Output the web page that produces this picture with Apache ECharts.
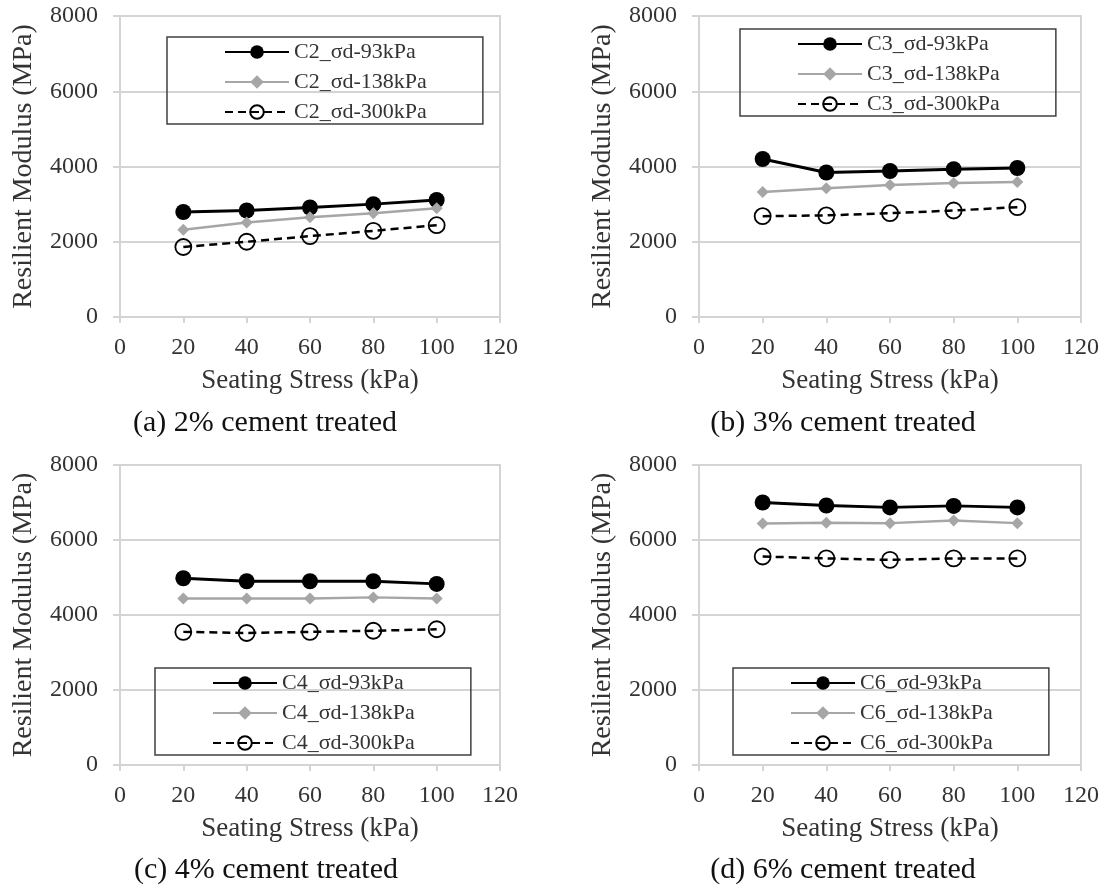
<!DOCTYPE html>
<html>
<head>
<meta charset="utf-8">
<script src="https://cdn.jsdelivr.net/npm/echarts@6/dist/echarts.min.js"></script>
<style>
html,body{margin:0;padding:0;background:#fff;}
#chart{width:1106px;height:890px;}
</style>
</head>
<body>
<div id="chart"></div>
<script>
// ---- data ----
const stress = [20, 40, 60, 80, 100];

const c2_93  = [2790, 2830, 2910, 3000, 3110];
const c2_138 = [2320, 2510, 2650, 2760, 2890];
const c2_300 = [1860, 2000, 2150, 2290, 2440];

const c3_93  = [4200, 3840, 3880, 3930, 3960];
const c3_138 = [3320, 3420, 3510, 3560, 3590];
const c3_300 = [2680, 2700, 2760, 2830, 2920];

const c4_93  = [4980, 4900, 4900, 4900, 4830];
const c4_138 = [4440, 4440, 4440, 4470, 4440];
const c4_300 = [3550, 3520, 3550, 3580, 3620];

const c6_93  = [7000, 6920, 6870, 6910, 6870];
const c6_138 = [6440, 6460, 6450, 6520, 6450];
const c6_300 = [5560, 5510, 5470, 5510, 5510];

const seriesLabels = ['σd-93kPa', 'σd-138kPa', 'σd-300kPa'];
const captions = ['(a) 2% cement treated', '(b) 3% cement treated', '(c) 4% cement treated', '(d) 6% cement treated'];
const prefixes = ['C2', 'C3', 'C4', 'C6'];
const xTitle = 'Seating Stress (kPa)';
const yTitle = 'Resilient Modulus (MPa)';

// ---- layout ----
const FONT = "'Liberation Serif', 'Times New Roman', serif";
const panelData = [
  [c2_93, c2_138, c2_300],
  [c3_93, c3_138, c3_300],
  [c4_93, c4_138, c4_300],
  [c6_93, c6_138, c6_300]
];
const grids = [
  {left: 120, top: 16, width: 380, height: 301},
  {left: 699, top: 16, width: 382, height: 301},
  {left: 120, top: 465, width: 380, height: 300},
  {left: 699, top: 465, width: 382, height: 300}
];
const legendPos = [
  {left: 167, top: 37},
  {left: 740, top: 29},
  {left: 155, top: 668},
  {left: 733, top: 668}
];
const captionPos = [[265, 423], [843, 423], [266, 870], [843, 870]];

const gridColor = '#d4d4d4';
const option = {
  animation: false,
  backgroundColor: '#fff',
  grid: [], xAxis: [], yAxis: [], series: [], legend: [], graphic: []
};

grids.forEach((g, i) => {
  option.grid.push(Object.assign({show: true, borderColor: gridColor, borderWidth: 2, backgroundColor: 'transparent'}, g));
  option.xAxis.push({
    type: 'value', gridIndex: i, min: 0, max: 120, interval: 20,
    name: xTitle, nameLocation: 'middle', nameGap: 50,
    nameTextStyle: {fontFamily: FONT, fontSize: 27, color: '#333'},
    axisLine: {show: true, onZero: false, lineStyle: {color: gridColor, width: 2}},
    axisTick: {show: true, inside: false, length: 6, lineStyle: {color: gridColor, width: 2}},
    axisLabel: {fontFamily: FONT, fontSize: 24, color: '#333', margin: 19, formatter: v => String(v)},
    splitLine: {show: false}
  });
  option.yAxis.push({
    type: 'value', gridIndex: i, min: 0, max: 8000, interval: 2000,
    name: yTitle, nameLocation: 'middle', nameGap: 82, nameRotate: 90,
    nameTextStyle: {fontFamily: FONT, fontSize: 28, color: '#333'},
    axisLine: {show: true, lineStyle: {color: gridColor, width: 2}},
    axisTick: {show: true, inside: false, length: 7, lineStyle: {color: gridColor, width: 2}},
    axisLabel: {fontFamily: FONT, fontSize: 24, color: '#333', margin: 22, formatter: v => String(v)},
    splitLine: {show: true, lineStyle: {color: gridColor, width: 2}}
  });
  const names = seriesLabels.map(s => prefixes[i] + '_' + s);
  const [d93, d138, d300] = panelData[i];
  const pts = arr => stress.map((x, k) => [x, arr[k]]);
  option.series.push({
    type: 'line', name: names[0], xAxisIndex: i, yAxisIndex: i, data: pts(d93),
    symbol: 'circle', symbolSize: 16,
    lineStyle: {color: '#000', width: 3},
    itemStyle: {color: '#000'}
  });
  option.series.push({
    type: 'line', name: names[1], xAxisIndex: i, yAxisIndex: i, data: pts(d138),
    symbol: 'diamond', symbolSize: 12,
    lineStyle: {color: '#a6a6a6', width: 2.5},
    itemStyle: {color: '#a6a6a6'}
  });
  option.series.push({
    type: 'line', name: names[2], xAxisIndex: i, yAxisIndex: i, data: pts(d300),
    symbol: 'circle', symbolSize: 16,
    lineStyle: {color: '#000', width: 2.5, type: [8, 5]},
    itemStyle: {color: 'rgba(255,255,255,0)', borderColor: '#000', borderWidth: 1.8}
  });
  option.legend.push({
    data: names, orient: 'vertical',
    left: legendPos[i].left, top: legendPos[i].top,
    borderColor: '#404040', borderWidth: 1.5,
    padding: [4, 56, 1, 57],
    itemGap: 8, itemWidth: 64, itemHeight: 17,
    textStyle: {fontFamily: FONT, fontSize: 22, color: '#333', lineHeight: 22},
    selectedMode: false
  });
  option.graphic.push({
    type: 'text', x: captionPos[i][0], y: captionPos[i][1],
    style: {text: captions[i], fontFamily: FONT, fontSize: 30, fill: '#111', textAlign: 'center', textVerticalAlign: 'middle'}
  });
});

const chart = echarts.init(document.getElementById('chart'), null, {renderer: 'canvas'});
chart.setOption(option);
</script>
</body>
</html>
